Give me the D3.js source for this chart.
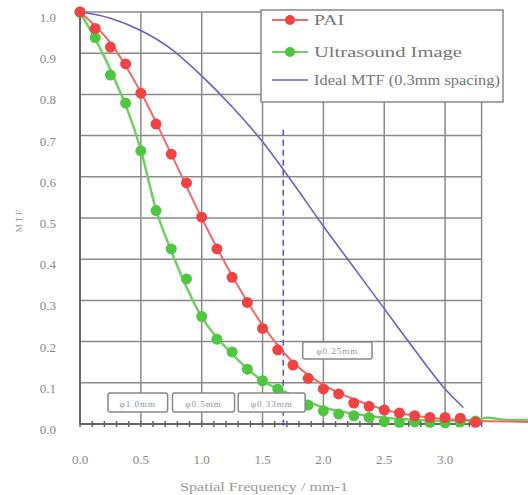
<!DOCTYPE html>
<html>
<head>
<meta charset="utf-8">
<script src="https://cdn.jsdelivr.net/npm/d3@7"></script>
<style>
  body { margin: 0; background: #fff; }
  text { font-family: "Liberation Serif", "DejaVu Serif", serif; }
</style>
</head>
<body>
<div id="chart"></div>
<script>
(function() {
    var width = 528,
        height = 495;

    // measured points
    var paiX = [0, 0.125, 0.25, 0.375, 0.5, 0.625, 0.75, 0.875, 1.0, 1.125, 1.25, 1.375, 1.5, 1.625, 1.75, 1.875, 2.0, 2.125, 2.25, 2.375, 2.5, 2.625, 2.75, 2.875, 3.0, 3.125, 3.25];
    var paiY = [1.0, 0.96, 0.915, 0.874, 0.803, 0.728, 0.655, 0.585, 0.502, 0.425, 0.356, 0.295, 0.232, 0.18, 0.143, 0.111, 0.085, 0.073, 0.051, 0.043, 0.034, 0.027, 0.02, 0.016, 0.016, 0.014, 0.004];
    var usX = [0, 0.125, 0.25, 0.375, 0.5, 0.625, 0.75, 0.875, 1.0, 1.125, 1.25, 1.375, 1.5, 1.625, 1.75, 1.875, 2.0, 2.125, 2.25, 2.375, 2.5, 2.625, 2.75, 2.875, 3.0, 3.125, 3.25];
    var usY = [1.0, 0.938, 0.847, 0.779, 0.663, 0.518, 0.425, 0.352, 0.261, 0.206, 0.175, 0.133, 0.105, 0.085, 0.062, 0.046, 0.032, 0.024, 0.02, 0.016, 0.006, 0.004, 0.005, 0.004, 0.003, 0.005, 0.007];

    // fitted curves
    var paiFitX = [0, 0.25, 0.5, 0.75, 1.0, 1.25, 1.5, 1.75, 2.0, 2.25, 2.5, 2.75, 3.0, 3.25, 3.5, 3.7];
    var paiFitY = [1.0, 0.925, 0.805, 0.655, 0.5, 0.36, 0.24, 0.15, 0.095, 0.06, 0.035, 0.02, 0.012, 0.008, 0.006, 0.005];
    var usFitX = [0, 0.25, 0.5, 0.625, 0.75, 1.0, 1.25, 1.5, 1.75, 2.0, 2.25, 2.5, 2.75, 3.0, 3.25, 3.35, 3.5, 3.7];
    var usFitY = [1.0, 0.86, 0.665, 0.52, 0.42, 0.26, 0.17, 0.105, 0.07, 0.04, 0.025, 0.015, 0.01, 0.008, 0.01, 0.015, 0.01, 0.01];
    var idealX = [0, 0.25, 0.5, 0.75, 1.0, 1.25, 1.5, 1.75, 2.0, 2.25, 2.5, 2.75, 3.0, 3.15];
    var idealY = [1.0, 0.985, 0.955, 0.91, 0.845, 0.77, 0.685, 0.585, 0.48, 0.38, 0.28, 0.18, 0.085, 0.04];

    var xTicks = [0, 0.5, 1.0, 1.5, 2.0, 2.5, 3.0];
    var yTicks = [0, 0.1, 0.2, 0.3, 0.4, 0.5, 0.6, 0.7, 0.8, 0.9, 1.0];
    var cutoff = 1.67;

    // annotation boxes (data units)
    var boxLabels = ["\u03c61.0mm", "\u03c60.5mm", "\u03c60.33mm", "\u03c60.25mm"];
    var boxX0 = [0.23, 0.76, 1.30, 1.83];
    var boxX1 = [0.72, 1.27, 1.85, 2.40];
    var boxY0 = [0.029, 0.029, 0.029, 0.158];
    var boxY1 = [0.075, 0.075, 0.075, 0.199];

    var x = d3.scaleLinear().domain([0, 3.3]).range([80, 481.6]);
    var y = d3.scaleLinear().domain([0, 1]).range([424, 12]);

    var svg = d3.select("#chart")
        .append("svg")
        .attr("width", width)
        .attr("height", height);

    var gridColor = "#8a8a8a";

    // grid
    svg.append("g").selectAll("line.h")
        .data(yTicks)
        .enter().append("line")
        .attr("x1", x(0)).attr("x2", x(3.3))
        .attr("y1", function(d) { return y(d) })
        .attr("y2", function(d) { return y(d) })
        .attr("stroke", gridColor)
        .attr("stroke-width", 1.5);

    svg.append("g").selectAll("line.v")
        .data(xTicks.concat([3.3]))
        .enter().append("line")
        .attr("y1", y(0)).attr("y2", y(1))
        .attr("x1", function(d) { return x(d) })
        .attr("x2", function(d) { return x(d) })
        .attr("stroke", gridColor)
        .attr("stroke-width", 1.5);

    // minor ticks on the bottom axis
    var minor = d3.range(0, 34).map(function(i) { return i / 10 });
    svg.append("g").selectAll("line")
        .data(minor)
        .enter().append("line")
        .attr("x1", function(d) { return x(d) })
        .attr("x2", function(d) { return x(d) })
        .attr("y1", y(0) - 3).attr("y2", y(0) + 3)
        .attr("stroke", "#666")
        .attr("stroke-width", 1.5);

    svg.append("line")
        .attr("x1", x(0)).attr("x2", x(3.3))
        .attr("y1", y(0)).attr("y2", y(0))
        .attr("stroke", "#666").attr("stroke-width", 2);
    svg.append("line")
        .attr("x1", x(0)).attr("x2", x(0))
        .attr("y1", y(0)).attr("y2", y(1))
        .attr("stroke", "#666").attr("stroke-width", 2);

    // tick labels
    svg.append("g").selectAll("text")
        .data(yTicks)
        .enter().append("text")
        .attr("x", 56)
        .attr("y", function(d) { return y(d) + 10 })
        .attr("text-anchor", "end")
        .attr("font-size", 13)
        .attr("fill", "#888")
        .text(function(d) { return d.toFixed(1) });

    svg.append("g").selectAll("text")
        .data(xTicks)
        .enter().append("text")
        .attr("x", function(d) { return x(d) })
        .attr("y", 464)
        .attr("text-anchor", "middle")
        .attr("font-size", 13)
        .attr("fill", "#888")
        .text(function(d) { return d.toFixed(1) });

    svg.append("text")
        .attr("x", 264).attr("y", 491)
        .attr("text-anchor", "middle")
        .attr("font-size", 12)
        .attr("fill", "#999")
        .attr("textLength", 168)
        .attr("lengthAdjust", "spacingAndGlyphs")
        .text("Spatial Frequency / mm-1");

    svg.append("text")
        .attr("transform", "translate(22,220) rotate(-90)")
        .attr("text-anchor", "middle")
        .attr("font-size", 9)
        .attr("fill", "#999")
        .attr("letter-spacing", 2)
        .text("MTF");

    var line = d3.line()
        .x(function(d) { return x(d[0]) })
        .y(function(d) { return y(d[1]) })
        .curve(d3.curveMonotoneX);

    // ideal curve
    svg.append("path")
        .datum(d3.zip(idealX, idealY))
        .attr("d", line)
        .attr("fill", "none")
        .attr("stroke", "#6a5fc8")
        .attr("stroke-width", 1.6);

    // cutoff dashed line
    svg.append("line")
        .attr("x1", x(cutoff)).attr("x2", x(cutoff))
        .attr("y1", y(0.714)).attr("y2", y(0) + 6)
        .attr("stroke", "#5a50c8")
        .attr("stroke-width", 1.5)
        .attr("stroke-dasharray", "6,4");

    // fitted lines
    svg.append("path")
        .datum(d3.zip(usFitX, usFitY))
        .attr("d", line)
        .attr("fill", "none")
        .attr("stroke", "#6fd060")
        .attr("stroke-width", 2.5);

    svg.append("path")
        .datum(d3.zip(paiFitX, paiFitY))
        .attr("d", line)
        .attr("fill", "none")
        .attr("stroke", "#f06a6a")
        .attr("stroke-width", 2);

    // markers
    svg.append("g").selectAll("circle")
        .data(d3.zip(usX, usY))
        .enter().append("circle")
        .attr("cx", function(d) { return x(d[0]) })
        .attr("cy", function(d) { return y(d[1]) })
        .attr("r", 5.5)
        .attr("fill", "#4ec640");

    svg.append("g").selectAll("circle")
        .data(d3.zip(paiX, paiY))
        .enter().append("circle")
        .attr("cx", function(d) { return x(d[0]) })
        .attr("cy", function(d) { return y(d[1]) })
        .attr("r", 5.5)
        .attr("fill", "#f04444");

    // annotation boxes
    var boxes = svg.append("g").selectAll("g")
        .data(boxLabels)
        .enter().append("g");
    boxes.append("rect")
        .attr("x", function(d, i) { return x(boxX0[i]) })
        .attr("y", function(d, i) { return y(boxY1[i]) })
        .attr("width", function(d, i) { return x(boxX1[i]) - x(boxX0[i]) })
        .attr("height", function(d, i) { return y(boxY0[i]) - y(boxY1[i]) })
        .attr("rx", 2)
        .attr("fill", "#fff")
        .attr("stroke", "#888")
        .attr("stroke-width", 1.5);
    boxes.append("text")
        .attr("x", function(d, i) { return (x(boxX0[i]) + x(boxX1[i])) / 2 })
        .attr("y", function(d, i) { return (y(boxY0[i]) + y(boxY1[i])) / 2 + 4 })
        .attr("text-anchor", "middle")
        .attr("font-size", 9)
        .attr("fill", "#8a90a8")
        .attr("letter-spacing", 1)
        .text(function(d) { return d });

    // legend
    var lg = svg.append("g");
    lg.append("rect")
        .attr("x", 261).attr("y", 10)
        .attr("width", 242).attr("height", 92)
        .attr("fill", "#fff")
        .attr("stroke", "#888")
        .attr("stroke-width", 1.5);

    var legendNames = ["PAI", "Ultrasound Image", "Ideal MTF (0.3mm spacing)"];
    var legendColors = ["#f04444", "#4ec640", "#6a5fc8"];
    var legendLens = [30, 148, 186];
    var legendRows = [20, 52, 80];

    legendNames.forEach(function(name, i) {
        lg.append("line")
            .attr("x1", 272).attr("x2", 308)
            .attr("y1", legendRows[i]).attr("y2", legendRows[i])
            .attr("stroke", i === 2 ? legendColors[i] : (i === 0 ? "#f06a6a" : "#6fd060"))
            .attr("stroke-width", i === 2 ? 1.6 : 2);
        if (i < 2) {
            lg.append("circle")
                .attr("cx", 290).attr("cy", legendRows[i])
                .attr("r", 5)
                .attr("fill", legendColors[i]);
        }
        lg.append("text")
            .attr("x", 314).attr("y", legendRows[i] + 5)
            .attr("font-size", 15)
            .attr("fill", "#777")
            .attr("textLength", legendLens[i])
            .attr("lengthAdjust", "spacingAndGlyphs")
            .text(name);
    });
})();
</script>
</body>
</html>
